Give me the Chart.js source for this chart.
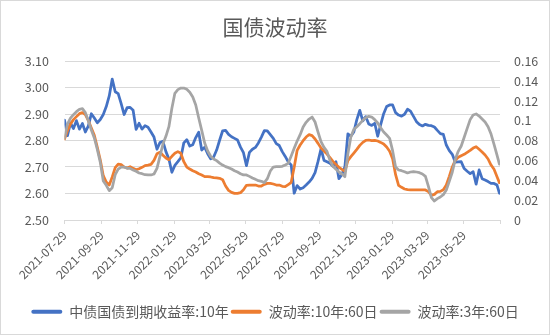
<!DOCTYPE html>
<html>
<head>
<meta charset="utf-8">
<script src="https://cdn.jsdelivr.net/npm/chart.js@4.4.1/dist/chart.umd.min.js"></script>
<style>
  html, body { margin: 0; padding: 0; background: #ffffff; }
  #wrap { width: 550px; height: 335px; position: relative; }
</style>
</head>
<body>
<div id="wrap"><canvas id="chart" width="550" height="335"></canvas></div>
<script>
// Sample dates (every five days)
const dates = [
  '2021-07-29','2021-08-03','2021-08-08','2021-08-13','2021-08-18','2021-08-23','2021-08-28','2021-09-02','2021-09-07','2021-09-12',
  '2021-09-17','2021-09-22','2021-09-27','2021-10-02','2021-10-07','2021-10-12','2021-10-17','2021-10-22','2021-10-27','2021-11-01',
  '2021-11-06','2021-11-11','2021-11-16','2021-11-21','2021-11-26','2021-12-01','2021-12-06','2021-12-11','2021-12-16','2021-12-21',
  '2021-12-26','2021-12-31','2022-01-05','2022-01-10','2022-01-15','2022-01-20','2022-01-25','2022-01-30','2022-02-04','2022-02-09',
  '2022-02-14','2022-02-19','2022-02-24','2022-03-01','2022-03-06','2022-03-11','2022-03-16','2022-03-21','2022-03-26','2022-03-31',
  '2022-04-05','2022-04-10','2022-04-15','2022-04-20','2022-04-25','2022-04-30','2022-05-05','2022-05-10','2022-05-15','2022-05-20',
  '2022-05-25','2022-05-30','2022-06-04','2022-06-09','2022-06-14','2022-06-19','2022-06-24','2022-06-29','2022-07-04','2022-07-09',
  '2022-07-14','2022-07-19','2022-07-24','2022-07-29','2022-08-03','2022-08-08','2022-08-13','2022-08-18','2022-08-23','2022-08-28',
  '2022-09-02','2022-09-07','2022-09-12','2022-09-17','2022-09-22','2022-09-27','2022-10-02','2022-10-07','2022-10-12','2022-10-17',
  '2022-10-22','2022-10-27','2022-11-01','2022-11-06','2022-11-11','2022-11-16','2022-11-21','2022-11-26','2022-12-01','2022-12-06',
  '2022-12-11','2022-12-16','2022-12-21','2022-12-26','2022-12-31','2023-01-05','2023-01-10','2023-01-15','2023-01-20','2023-01-25',
  '2023-01-30','2023-02-04','2023-02-09','2023-02-14','2023-02-19','2023-02-24','2023-03-01','2023-03-06','2023-03-11','2023-03-16',
  '2023-03-21','2023-03-26','2023-03-31','2023-04-05','2023-04-10','2023-04-15','2023-04-20','2023-04-25','2023-04-30','2023-05-05',
  '2023-05-10','2023-05-15','2023-05-20','2023-05-25','2023-05-30','2023-06-04','2023-06-09','2023-06-14','2023-06-19','2023-06-24',
  '2023-06-29','2023-07-04','2023-07-09','2023-07-14','2023-07-19','2023-07-24','2023-07-28'
];

// 中债国债到期收益率:10年 (%)
const yield10y = [
  2.877,2.818,2.866,2.845,2.875,2.843,2.864,2.832,2.855,2.901,
  2.885,2.867,2.879,2.898,2.928,2.968,3.032,2.984,2.977,2.939,
  2.898,2.924,2.925,2.914,2.842,2.865,2.843,2.856,2.850,2.832,
  2.813,2.767,2.792,2.797,2.758,2.730,2.680,2.706,2.720,2.735,
  2.791,2.803,2.779,2.784,2.811,2.831,2.764,2.775,2.750,2.731,
  2.738,2.764,2.801,2.836,2.838,2.823,2.814,2.808,2.802,2.775,
  2.754,2.705,2.755,2.767,2.774,2.791,2.813,2.837,2.836,2.822,
  2.808,2.788,2.781,2.758,2.740,2.719,2.708,2.601,2.630,2.617,
  2.622,2.632,2.643,2.657,2.679,2.721,2.769,2.725,2.720,2.714,
  2.703,2.720,2.656,2.672,2.701,2.825,2.816,2.832,2.879,2.914,
  2.874,2.890,2.862,2.857,2.865,2.816,2.860,2.901,2.928,2.934,
  2.934,2.905,2.896,2.892,2.899,2.918,2.911,2.891,2.871,2.860,
  2.855,2.861,2.857,2.856,2.851,2.838,2.826,2.823,2.783,2.762,
  2.748,2.718,2.719,2.720,2.694,2.684,2.675,2.682,2.635,2.689,
  2.656,2.651,2.645,2.638,2.638,2.632,2.601
];

// 波动率:10年:60日
const vol10y60d = [
  0.0815,0.0899,0.0966,0.1010,0.1040,0.1070,0.1080,0.1060,0.1000,0.0926,
  0.0852,0.0731,0.0604,0.0446,0.0382,0.0352,0.0433,0.0527,0.0563,0.0557,
  0.0533,0.0523,0.0537,0.0520,0.0506,0.0516,0.0530,0.0547,0.0553,0.0560,
  0.0600,0.0667,0.0681,0.0651,0.0624,0.0607,0.0641,0.0671,0.0688,0.0671,
  0.0587,0.0533,0.0513,0.0496,0.0483,0.0466,0.0453,0.0436,0.0436,0.0433,
  0.0426,0.0423,0.0419,0.0406,0.0342,0.0298,0.0278,0.0268,0.0268,0.0275,
  0.0305,0.0349,0.0352,0.0352,0.0352,0.0342,0.0342,0.0359,0.0369,0.0369,
  0.0362,0.0352,0.0352,0.0339,0.0335,0.0355,0.0379,0.0530,0.0701,0.0755,
  0.0798,0.0835,0.0859,0.0849,0.0815,0.0771,0.0724,0.0694,0.0664,0.0627,
  0.0590,0.0560,0.0530,0.0510,0.0490,0.0597,0.0637,0.0674,0.0711,0.0751,
  0.0781,0.0802,0.0805,0.0798,0.0802,0.0795,0.0781,0.0765,0.0734,0.0691,
  0.0617,0.0456,0.0349,0.0329,0.0312,0.0305,0.0302,0.0302,0.0302,0.0302,
  0.0302,0.0302,0.0285,0.0248,0.0258,0.0285,0.0288,0.0305,0.0352,0.0439,
  0.0533,0.0600,0.0631,0.0647,0.0661,0.0681,0.0701,0.0724,0.0738,0.0711,
  0.0684,0.0654,0.0614,0.0553,0.0510,0.0436,0.0376
];

// 波动率:3年:60日
const vol3y60d = [
  0.0822,0.0966,0.1026,0.1060,0.1090,0.1114,0.1120,0.1080,0.1000,0.0906,
  0.0825,0.0711,0.0580,0.0392,0.0349,0.0295,0.0325,0.0456,0.0513,0.0533,
  0.0533,0.0520,0.0520,0.0503,0.0490,0.0473,0.0466,0.0456,0.0453,0.0453,
  0.0463,0.0520,0.0641,0.0765,0.0842,0.0939,0.1124,0.1275,0.1312,0.1328,
  0.1328,0.1315,0.1285,0.1238,0.1157,0.1026,0.0902,0.0775,0.0694,0.0641,
  0.0614,0.0597,0.0573,0.0553,0.0537,0.0527,0.0513,0.0496,0.0483,0.0466,
  0.0453,0.0453,0.0439,0.0423,0.0409,0.0396,0.0389,0.0376,0.0416,0.0493,
  0.0533,0.0537,0.0537,0.0540,0.0553,0.0570,0.0644,0.0721,0.0795,0.0859,
  0.0936,0.0983,0.1016,0.1036,0.0986,0.0885,0.0788,0.0731,0.0691,0.0597,
  0.0540,0.0510,0.0483,0.0463,0.0436,0.0664,0.0835,0.0912,0.0939,0.0969,
  0.1003,0.1030,0.1043,0.1036,0.1010,0.0976,0.0929,0.0885,0.0855,0.0822,
  0.0698,0.0533,0.0503,0.0496,0.0486,0.0473,0.0483,0.0486,0.0483,0.0476,
  0.0463,0.0439,0.0339,0.0225,0.0191,0.0215,0.0231,0.0255,0.0302,0.0389,
  0.0480,0.0610,0.0691,0.0745,0.0832,0.0922,0.1010,0.1057,0.1067,0.1046,
  0.1016,0.0986,0.0939,0.0865,0.0761,0.0654,0.0563
];

// Date-axis labels (every two months) and the axis end
const tickLabels = [
  '2021-07-29','2021-09-29','2021-11-29','2022-01-29','2022-03-29','2022-05-29',
  '2022-07-29','2022-09-29','2022-11-29','2023-01-29','2023-03-29','2023-05-29'
];
const axisEnd = '2023-07-29';

const seriesNames = ['中债国债到期收益率:10年', '波动率:10年:60日', '波动率:3年:60日'];
const seriesColors = ['#4472C4', '#ED7D31', '#A5A5A5'];

const DAY_MS = 86400000;
const origin = Date.parse(dates[0]);
const dayOf = s => Math.round((Date.parse(s) - origin) / DAY_MS);
const toPoints = values => values.map((v, i) => ({ x: dayOf(dates[i]), y: v }));
const tickValues = tickLabels.map(dayOf).concat([dayOf(axisEnd)]);

Chart.defaults.font.family = '"Noto Sans CJK SC", "Noto Sans", sans-serif';
Chart.defaults.color = '#595959';

// White background and thin outer frame
const frame = {
  id: 'frame',
  beforeDraw(chart) {
    const { ctx, width, height } = chart;
    ctx.save();
    ctx.fillStyle = '#ffffff';
    ctx.fillRect(0, 0, width, height);
    ctx.restore();
  },
  afterDraw(chart) {
    const { ctx, width, height } = chart;
    ctx.save();
    ctx.strokeStyle = '#d9d9d9';
    ctx.lineWidth = 1;
    ctx.strokeRect(0.5, 0.5, width - 1, height - 1);
    ctx.restore();
  }
};

const lineStyle = (i) => ({
  label: seriesNames[i],
  borderColor: seriesColors[i],
  backgroundColor: seriesColors[i],
  borderWidth: 2.75,
  pointRadius: 0,
  pointHoverRadius: 0,
  tension: 0,
  borderJoinStyle: 'round',
  borderCapStyle: 'round',
  fill: false
});

new Chart(document.getElementById('chart'), {
  type: 'line',
  data: {
    datasets: [
      Object.assign(lineStyle(0), { data: toPoints(yield10y), yAxisID: 'y', order: 3 }),
      Object.assign(lineStyle(1), { data: toPoints(vol10y60d), yAxisID: 'y1', order: 2 }),
      Object.assign(lineStyle(2), { data: toPoints(vol3y60d), yAxisID: 'y1', order: 1 })
    ]
  },
  options: {
    responsive: false,
    animation: false,
    events: [],
    layout: { padding: { left: 0, right: 0, top: 0, bottom: 6.3 } },
    plugins: {
      tooltip: { enabled: false },
      title: {
        display: true,
        text: '国债波动率',
        color: '#595959',
        font: { size: 21, weight: 'normal' },
        padding: { top: 14.6, bottom: 21.2 }
      },
      legend: {
        position: 'bottom',
        labels: {
          font: { size: 14 },
          color: '#595959',
          boxWidth: 31,
          boxHeight: 4,
          padding: 2,
          useBorderRadius: true,
          borderRadius: 2,
          sort: (a, b) => a.datasetIndex - b.datasetIndex,
          generateLabels: (chart) =>
            Chart.defaults.plugins.legend.labels.generateLabels(chart).map(it =>
              Object.assign(it, { lineWidth: 0, fillStyle: it.strokeStyle }))
        }
      }
    },
    scales: {
      x: {
        type: 'linear',
        min: 0,
        max: dayOf(axisEnd),
        afterBuildTicks: (scale) => { scale.ticks = tickValues.map(v => ({ value: v })); },
        afterFit: (scale) => { scale.height = 82.7; },
        ticks: {
          autoSkip: false,
          minRotation: 45,
          maxRotation: 45,
          padding: 4,
          font: { size: 12 },
          color: '#595959',
          callback: (value, index) => (index < tickLabels.length ? tickLabels[index] : '')
        },
        grid: {
          drawOnChartArea: false,
          drawTicks: true,
          tickLength: 4,
          color: '#d9d9d9'
        },
        border: { display: true, color: '#d9d9d9', width: 1 }
      },
      y: {
        position: 'left',
        min: 2.5,
        max: 3.1,
        afterFit: (scale) => { scale.width = 64.5; },
        ticks: {
          stepSize: 0.1,
          padding: 15.5,
          font: { size: 12.5 },
          color: '#595959',
          callback: (v) => Number(v).toFixed(2)
        },
        grid: { color: '#d9d9d9', lineWidth: 1, drawTicks: false },
        border: { display: false }
      },
      y1: {
        position: 'right',
        min: 0,
        max: 0.16,
        afterFit: (scale) => { scale.width = 50; },
        ticks: {
          stepSize: 0.02,
          padding: 14,
          font: { size: 12.5 },
          color: '#595959',
          callback: (v) => String(Number(Number(v).toFixed(2)))
        },
        grid: { display: false, drawTicks: false },
        border: { display: false }
      }
    }
  },
  plugins: [frame]
});
</script>
</body>
</html>
